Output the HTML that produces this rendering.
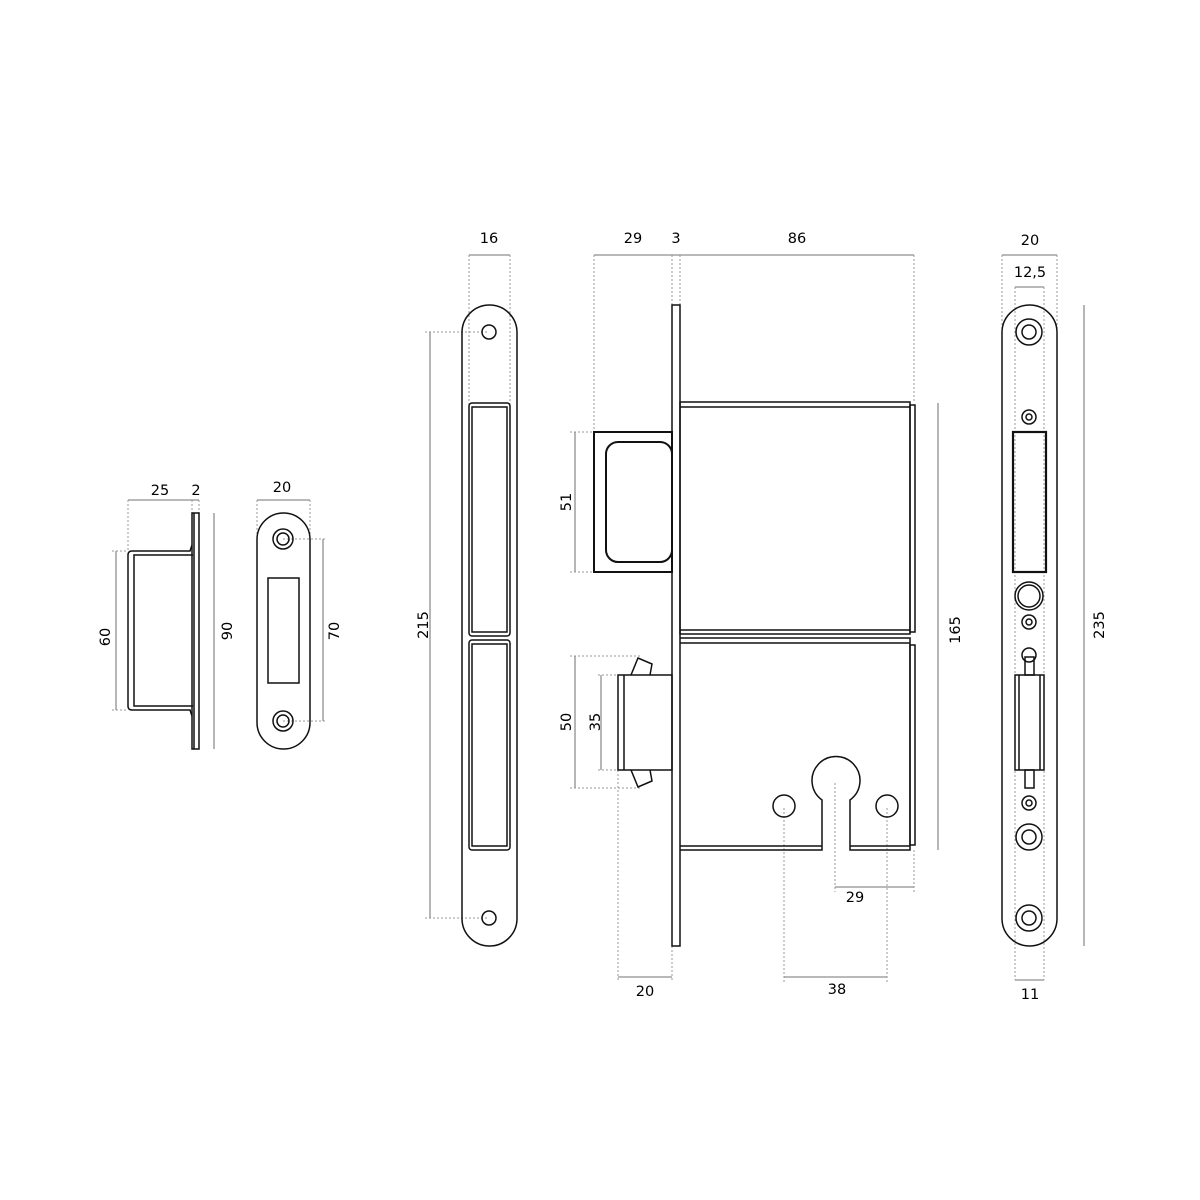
<!DOCTYPE html>
<html><head><meta charset="utf-8"><style>html,body{margin:0;padding:0;background:#fff}svg{display:block}</style></head>
<body>
<svg width="1200" height="1200" viewBox="0 0 1200 1200" xmlns="http://www.w3.org/2000/svg" font-family="'DejaVu Sans','Liberation Sans',sans-serif" font-size="14.5">
<rect width="1200" height="1200" fill="#fff"/>
<g fill="none" stroke="#999" stroke-width="1" stroke-dasharray="2,2">
<line x1="128" y1="500" x2="128" y2="551"/><line x1="192" y1="500" x2="192" y2="513"/><line x1="199" y1="500" x2="199" y2="513"/>
<line x1="112" y1="551" x2="128" y2="551"/><line x1="112" y1="710" x2="128" y2="710"/>
<line x1="257" y1="500" x2="257" y2="540"/><line x1="310" y1="500" x2="310" y2="540"/>
<line x1="283" y1="539" x2="326" y2="539"/><line x1="283" y1="721" x2="326" y2="721"/>
<line x1="469" y1="255" x2="469" y2="405"/><line x1="510" y1="255" x2="510" y2="405"/>
<line x1="425" y1="332" x2="489" y2="332"/><line x1="425" y1="918" x2="489" y2="918"/>
<line x1="594" y1="255" x2="594" y2="432"/><line x1="672" y1="255" x2="672" y2="305"/><line x1="680" y1="255" x2="680" y2="305"/><line x1="914" y1="255" x2="914" y2="403"/>
<line x1="570" y1="432" x2="594" y2="432"/><line x1="570" y1="572" x2="594" y2="572"/>
<line x1="570" y1="656" x2="640" y2="656"/><line x1="570" y1="788" x2="640" y2="788"/>
<line x1="598" y1="675" x2="618" y2="675"/><line x1="598" y1="770" x2="618" y2="770"/>
<line x1="618" y1="770" x2="618" y2="982"/><line x1="672" y1="946" x2="672" y2="982"/>
<line x1="784" y1="808" x2="784" y2="982"/><line x1="887" y1="808" x2="887" y2="982"/>
<line x1="835" y1="783" x2="835" y2="892"/><line x1="914" y1="850" x2="914" y2="892"/>
<line x1="1002" y1="255" x2="1002" y2="330"/><line x1="1057" y1="255" x2="1057" y2="330"/>
<line x1="1015" y1="287" x2="1015" y2="980"/><line x1="1044" y1="287" x2="1044" y2="980"/>
</g>
<g fill="none" stroke="#8f8f8f" stroke-width="1.3">
<line x1="128" y1="500" x2="199" y2="500"/><line x1="116" y1="551" x2="116" y2="710"/><line x1="214" y1="513" x2="214" y2="749"/>
<line x1="257" y1="500" x2="310" y2="500"/><line x1="323" y1="539" x2="323" y2="721"/>
<line x1="469" y1="255" x2="510" y2="255"/><line x1="430" y1="332" x2="430" y2="918"/>
<line x1="594" y1="255" x2="914" y2="255"/><line x1="575" y1="432" x2="575" y2="572"/><line x1="575" y1="656" x2="575" y2="788"/><line x1="601" y1="675" x2="601" y2="770"/>
<line x1="938" y1="403" x2="938" y2="850"/><line x1="835" y1="887" x2="914" y2="887"/><line x1="618" y1="977" x2="672" y2="977"/><line x1="784" y1="977" x2="887" y2="977"/>
<line x1="1002" y1="255" x2="1057" y2="255"/><line x1="1015" y1="287" x2="1044" y2="287"/><line x1="1015" y1="980" x2="1044" y2="980"/><line x1="1084" y1="305" x2="1084" y2="946"/>
</g>
<g fill="#000" text-anchor="middle">
<text x="160" y="495">25</text><text x="196" y="495">2</text>
<text x="282" y="492">20</text>
<text x="489" y="243">16</text>
<text x="633" y="243">29</text><text x="676" y="243">3</text><text x="797" y="243">86</text>
<text x="1030" y="245">20</text><text x="1030" y="277">12,5</text><text x="1030" y="999">11</text>
<text x="855" y="902">29</text><text x="645" y="996">20</text><text x="837" y="994">38</text>
<text transform="translate(110,637) rotate(-90)">60</text>
<text transform="translate(232,631) rotate(-90)">90</text>
<text transform="translate(339,631) rotate(-90)">70</text>
<text transform="translate(428,625) rotate(-90)">215</text>
<text transform="translate(571,502) rotate(-90)">51</text>
<text transform="translate(571,722) rotate(-90)">50</text>
<text transform="translate(600,722) rotate(-90)">35</text>
<text transform="translate(960,630) rotate(-90)">165</text>
<text transform="translate(1104,625) rotate(-90)">235</text>
</g>
<g fill="none" stroke="#111" stroke-width="1.5">
<rect x="192" y="513" width="7" height="236"/><line x1="194" y1="513" x2="194" y2="749"/>
<path d="M192,545 L190,551 L132,551 Q128,551 128,555 L128,706 Q128,710 132,710 L190,710 L192,716"/>
<path d="M193,555 L134,555 L134,706 L193,706"/>
<rect x="257" y="513" width="53" height="236" rx="26.5"/>
<circle cx="283" cy="539" r="10"/><circle cx="283" cy="539" r="6"/>
<circle cx="283" cy="721" r="10"/><circle cx="283" cy="721" r="6"/>
<rect x="268" y="578" width="31" height="105"/>
<rect x="462" y="305" width="55" height="641" rx="27.5"/>
<circle cx="489" cy="332" r="7"/><circle cx="489" cy="918" r="7"/>
<rect x="469" y="403" width="41" height="233" rx="3"/><rect x="472" y="407" width="35" height="225"/>
<rect x="469" y="640" width="41" height="210" rx="3"/><rect x="472" y="644" width="35" height="202"/>
<rect x="672" y="305" width="8" height="641"/>
<rect x="680" y="402" width="230" height="232"/><line x1="680" y1="407" x2="910" y2="407"/><line x1="680" y1="630" x2="910" y2="630"/>
<rect x="910" y="405" width="5" height="227"/>
<path d="M680,638 L910,638 L910,850 L850,850 L850,800 A24,24 0 1 0 822,800 L822,850 L680,850"/>
<line x1="680" y1="643" x2="910" y2="643"/><line x1="680" y1="846" x2="822" y2="846"/><line x1="850" y1="846" x2="910" y2="846"/>
<rect x="910" y="645" width="5" height="200"/>
<circle cx="784" cy="806" r="11"/><circle cx="887" cy="806" r="11"/>
<rect x="594" y="432" width="78" height="140" stroke-width="2"/>
<rect x="606" y="442" width="66" height="120" rx="12" stroke-width="2"/>
<rect x="618" y="675" width="54" height="95"/><line x1="624" y1="675" x2="624" y2="770"/>
<path d="M631,675 L638,658 L652,664 L650,675"/><path d="M631,770 L638,787 L652,781 L650,770"/>
<rect x="1002" y="305" width="55" height="641" rx="27.5"/>
<circle cx="1029" cy="332" r="13"/><circle cx="1029" cy="332" r="7"/>
<circle cx="1029" cy="417" r="7"/><circle cx="1029" cy="417" r="3"/>
<rect x="1013" y="432" width="33" height="140" stroke-width="2.2"/>
<circle cx="1029" cy="596" r="14"/><circle cx="1029" cy="596" r="11"/>
<circle cx="1029" cy="622" r="7"/><circle cx="1029" cy="622" r="3"/>
<circle cx="1029" cy="655" r="7"/>
<rect x="1025" y="657" width="9" height="18"/>
<rect x="1015" y="675" width="29" height="95"/><line x1="1019" y1="675" x2="1019" y2="770"/><line x1="1040" y1="675" x2="1040" y2="770"/>
<rect x="1025" y="770" width="9" height="18"/>
<circle cx="1029" cy="803" r="7"/><circle cx="1029" cy="803" r="3"/>
<circle cx="1029" cy="837" r="13"/><circle cx="1029" cy="837" r="7"/>
<circle cx="1029" cy="918" r="13"/><circle cx="1029" cy="918" r="7"/>
</g>
</svg>
</body></html>
